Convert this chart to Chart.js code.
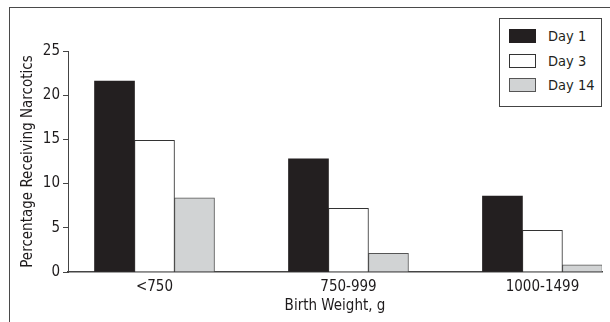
<!DOCTYPE html>
<html>
<head>
  <title>Narcotics by Birth Weight</title>
  <meta charset="utf-8" />
  <script src="https://cdn.jsdelivr.net/npm/chart.js"></script>
  <style>
    body { margin: 0; background: #fff; }
    #wrap { position: relative; width: 610px; height: 322px; overflow: hidden; }
    #frame { position: absolute; left: 9px; top: 7px; width: 700px; height: 400px; border: 1.5px solid #4a4a4a; }
    #legend { position: absolute; left: 499px; top: 18px; width: 101px; height: 87px; border: 1px solid #444; background: #fff;
              font: 14.5px 'DejaVu Sans Condensed', 'DejaVu Sans', sans-serif; font-stretch: condensed; color: #231f20; }
    .item { position: absolute; left: 9px; height: 14px; line-height: 14px; }
    .sw { position: absolute; left: 0; top: 0; width: 25px; height: 12px; border: 1px solid #333; }
    .lbl { position: absolute; left: 39px; top: 0; white-space: nowrap; }
  </style>
</head>
<body>
  <div id="wrap">
    <div id="frame"></div>
    <canvas id="barChart"></canvas>
    <div id="legend"></div>
  </div>

  <script>
    const categories = ['<750', '750-999', '1000-1499'];
    const seriesLabels = ['Day 1', 'Day 3', 'Day 14'];
    const day1 = [21.6, 12.8, 8.6];
    const day3 = [14.9, 7.2, 4.7];
    const day14 = [8.4, 2.1, 0.8];
    const yTicks = [0, 5, 10, 15, 20, 25];

    const fills = ['#231f20', '#ffffff', '#d1d3d4'];
    const edges = ['#231f20', '#333333', '#555555'];
    const fontFamily = "'DejaVu Sans Condensed', 'DejaVu Sans', sans-serif";
    const ink = '#1e1b1c';

    const toPoints = vals => vals.map((v, i) => ({ x: i, y: v }));
    const seriesValues = [day1, day3, day14];

    const datasets = seriesValues.map((vals, i) => ({
      label: seriesLabels[i],
      data: toPoints(vals),
      backgroundColor: fills[i],
      borderColor: edges[i],
      borderWidth: i === 0 ? 0 : 1,
      barThickness: 40
    }));

    const canvas = document.getElementById('barChart');
    canvas.width = 610; canvas.height = 322;

    const chart = new Chart(canvas, {
      type: 'bar',
      data: { datasets: datasets },
      options: {
        responsive: false,
        animation: false,
        layout: { padding: { left: 10, top: 51, right: 8, bottom: 0 } },
        plugins: { legend: { display: false }, tooltip: { enabled: false } },
        scales: {
          x: {
            type: 'linear',
            offset: false,
            min: -0.446,
            max: 2.307,
            grid: { display: false, drawTicks: false, offset: false },
            border: { display: true, color: '#444', width: 1.5 },
            afterBuildTicks: scale => { scale.ticks = categories.map((c, i) => ({ value: i })); },
            afterFit: scale => { scale.height = 50; },
            ticks: {
              autoSkip: false,
              maxRotation: 0,
              padding: 6,
              color: ink,
              font: { family: fontFamily, size: 15 },
              callback: v => categories[v]
            },
            title: {
              display: true,
              text: 'Birth Weight, g',
              color: ink,
              font: { family: fontFamily, size: 15 },
              padding: { top: 0, bottom: 7 }
            }
          },
          y: {
            min: 0,
            max: 25,
            afterBuildTicks: scale => { scale.ticks = yTicks.map(v => ({ value: v })); },
            afterFit: scale => { scale.width = 58; },
            grid: { drawOnChartArea: false, drawTicks: true, tickLength: 5, color: '#444' },
            border: { display: true, color: '#444', width: 1 },
            ticks: {
              padding: 3,
              color: ink,
              font: { family: fontFamily, size: 15 }
            },
            title: {
              display: true,
              text: 'Percentage Receiving Narcotics',
              color: ink,
              font: { family: fontFamily, size: 15 },
              padding: { top: 9, bottom: 0 }
            }
          }
        }
      }
    });

    // legend built from the datasets
    const legend = document.getElementById('legend');
    chart.data.datasets.forEach((ds, i) => {
      const item = document.createElement('div');
      item.className = 'item';
      item.style.top = (10 + i * 24.5) + 'px';
      item.innerHTML = '<span class="sw" style="background:' + ds.backgroundColor + ';border-color:' +
        ds.borderColor + '"></span><span class="lbl">' + ds.label + '</span>';
      legend.appendChild(item);
    });
  </script>
</body>
</html>
